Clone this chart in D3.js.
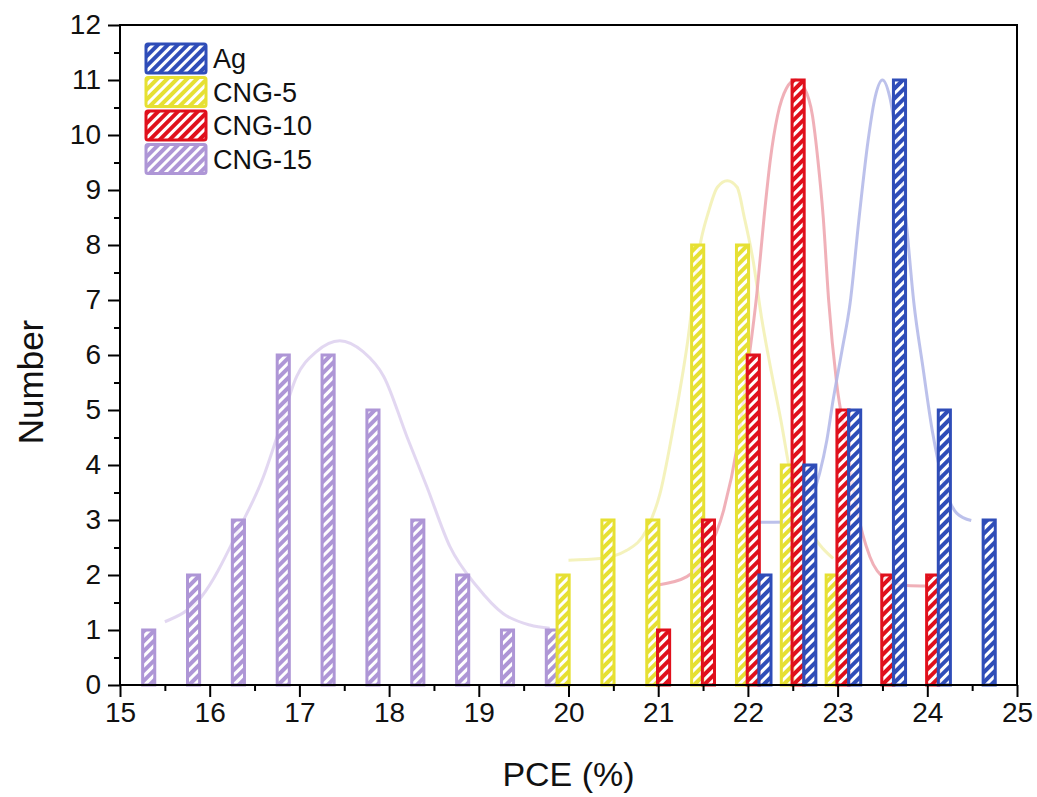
<!DOCTYPE html>
<html>
<head>
<meta charset="utf-8">
<script src="https://cdn.jsdelivr.net/npm/d3@7"></script>
<style>
  body { margin:0; background:#fff; }
  text { font-family: Arial, "Liberation Sans", sans-serif; fill:#111; }
</style>
</head>
<body>
<div id="chart"></div>
<script>
// histogram bins (bar centres, PCE %) and counts
const seriesNames = ["Ag", "CNG-5", "CNG-10", "CNG-15"];

const agPCE    = [22.19, 22.69, 23.19, 23.69, 24.19, 24.69];
const agCount  = [2, 4, 5, 11, 5, 3];
const cng5PCE   = [19.94, 20.44, 20.94, 21.44, 21.94, 22.44, 22.94];
const cng5Count = [2, 3, 3, 8, 8, 4, 2];
const cng10PCE   = [21.06, 21.56, 22.06, 22.56, 23.06, 23.56, 24.06];
const cng10Count = [1, 3, 6, 11, 5, 2, 2];
const cng15PCE   = [15.32, 15.82, 16.32, 16.82, 17.32, 17.82, 18.32, 18.82, 19.32, 19.82];
const cng15Count = [1, 2, 3, 6, 6, 5, 3, 2, 1, 1];

// fitted distribution curves
const agFit = [[22.06,2.96],[22.58,2.97],[22.69,3.3],[22.8,3.85],[22.88,4.45],[22.95,5.18],
  [23.05,6.09],[23.14,6.95],[23.24,8.5],[23.34,9.9],[23.42,10.7],[23.5,11.0],[23.58,10.7],
  [23.66,9.9],[23.76,8.5],[23.85,6.95],[23.95,5.79],[24.06,4.58],[24.18,3.67],[24.33,3.12],[24.49,2.99]];
const cng5Fit = [[20.0,2.27],[20.35,2.3],[20.65,2.45],[20.87,2.82],[21.02,3.48],[21.17,4.7],
  [21.32,6.15],[21.47,8.03],[21.56,8.6],[21.66,9.05],[21.77,9.17],[21.88,9.05],[21.96,8.5],
  [22.06,7.7],[22.15,6.7],[22.25,5.79],[22.36,4.88],[22.52,3.48],[22.66,2.9],[22.8,2.55],[22.95,2.3]];
const cng10Fit = [[21.0,1.82],[21.32,1.97],[21.54,2.39],[21.73,3.18],[21.88,4.33],[21.99,5.67],
  [22.1,7.12],[22.18,8.5],[22.25,9.55],[22.33,10.35],[22.43,10.85],[22.53,11.0],[22.63,10.85],
  [22.72,10.35],[22.78,9.55],[22.84,8.5],[22.9,7.0],[22.99,5.48],[23.1,4.4],[23.21,3.24],
  [23.36,2.33],[23.55,1.91],[23.77,1.81],[24.0,1.8]];
const cng15Fit = [[15.5,1.15],[15.91,1.61],[16.34,2.88],[16.6,3.79],[16.75,4.51],[16.97,5.61],
  [17.19,6.06],[17.45,6.26],[17.71,6.06],[17.94,5.61],[18.2,4.51],[18.42,3.61],[18.68,2.51],
  [18.98,1.79],[19.27,1.3],[19.57,1.09],[19.79,1.03]];

const xTicks = [15, 16, 17, 18, 19, 20, 21, 22, 23, 24, 25];
const yTicks = [0, 1, 2, 3, 4, 5, 6, 7, 8, 9, 10, 11, 12];

const colors    = { "Ag":"#2f4db8", "CNG-5":"#e6e033", "CNG-10":"#e0101c", "CNG-15":"#ae96d6" };
const fitColors = { "Ag":"#b0b6e8", "CNG-5":"#f2f0b0", "CNG-10":"#eda2ab", "CNG-15":"#ddd0ee" };

const W = 1037, H = 797;
const svg = d3.select("#chart").append("svg").attr("width", W).attr("height", H);

const x = d3.scaleLinear().domain([15, 25]).range([120, 1017]);
const y = d3.scaleLinear().domain([0, 12]).range([685, 25]);

// hatch patterns
const defs = svg.append("defs");
seriesNames.forEach((n, i) => {
  let p = defs.append("pattern").attr("id", "hatch" + i)
    .attr("patternUnits", "userSpaceOnUse")
    .attr("width", 7).attr("height", 7)
    .attr("patternTransform", "rotate(45)");
  p.append("rect").attr("width", 7).attr("height", 7).attr("fill", "#fff").attr("fill-opacity", 0.7);
  p.append("rect").attr("x", 0).attr("width", 4).attr("height", 7).attr("fill", colors[n]);
});

// fit curves (behind bars)
const line = d3.line().x(d => x(d[0])).y(d => y(d[1])).curve(d3.curveMonotoneX);
[["CNG-15", cng15Fit], ["CNG-5", cng5Fit], ["CNG-10", cng10Fit], ["Ag", agFit]].forEach(f => {
  svg.append("path").attr("d", line(f[1]))
    .attr("fill", "none").attr("stroke", fitColors[f[0]])
    .attr("stroke-width", 3).attr("stroke-opacity", 0.85);
});

// bars
const barW = 0.135;
const groups = [
  ["CNG-15", cng15PCE, cng15Count],
  ["CNG-5", cng5PCE, cng5Count],
  ["CNG-10", cng10PCE, cng10Count],
  ["Ag", agPCE, agCount]
];
groups.forEach(g => {
  let idx = seriesNames.indexOf(g[0]);
  svg.append("g").attr("class", "bars")
    .selectAll("rect").data(d3.range(g[1].length)).enter()
    .append("rect")
    .attr("x", i => x(g[1][i] - barW / 2))
    .attr("width", i => x(g[1][i] + barW / 2) - x(g[1][i] - barW / 2))
    .attr("y", i => y(g[2][i]))
    .attr("height", i => y(0) - y(g[2][i]))
    .attr("fill", "url(#hatch" + idx + ")")
    .attr("stroke", colors[g[0]])
    .attr("stroke-width", 3);
});

// axes
const xAxis = svg.append("g").attr("transform", "translate(0," + y(0) + ")")
  .call(d3.axisBottom(x).tickValues(xTicks).tickSize(12).tickPadding(5).tickFormat(d3.format("d")));
const xMinor = svg.append("g").attr("transform", "translate(0," + y(0) + ")")
  .call(d3.axisBottom(x).tickValues(xTicks.slice(0, -1).map(v => v + 0.5)).tickSize(6).tickFormat(""));
const yAxis = svg.append("g").attr("transform", "translate(" + x(15) + ",0)")
  .call(d3.axisLeft(y).tickValues(yTicks).tickSize(12).tickPadding(7).tickFormat(d3.format("d")));
const yMinor = svg.append("g").attr("transform", "translate(" + x(15) + ",0)")
  .call(d3.axisLeft(y).tickValues(yTicks.slice(0, -1).map(v => v + 0.5)).tickSize(6).tickFormat(""));

[xAxis, xMinor, yAxis, yMinor].forEach(a => {
  a.select(".domain").remove();
  a.selectAll("line").attr("stroke", "#000").attr("stroke-width", 2);
  a.selectAll("text").style("font-size", "28px").attr("fill", "#111");
});

// frame
svg.append("rect")
  .attr("x", x(15)).attr("y", y(12))
  .attr("width", x(25) - x(15)).attr("height", y(0) - y(12))
  .attr("fill", "none").attr("stroke", "#000").attr("stroke-width", 2);

// axis titles
svg.append("text").attr("x", (x(15) + x(25)) / 2).attr("y", 786)
  .attr("text-anchor", "middle").style("font-size", "34px").text("PCE (%)");
svg.append("text").attr("transform", "translate(43,382) rotate(-90)")
  .attr("text-anchor", "middle").style("font-size", "35px").text("Number");

// legend
const legend = svg.append("g").attr("transform", "translate(146,44)");
seriesNames.forEach((n, i) => {
  let row = legend.append("g").attr("transform", "translate(0," + i * 33.5 + ")");
  row.append("rect").attr("width", 60).attr("height", 29).attr("rx", 2)
    .attr("fill", "url(#hatch" + i + ")")
    .attr("stroke", colors[n]).attr("stroke-width", 3);
  row.append("text").attr("x", 67).attr("y", 24).style("font-size", "27px").text(n);
});
</script>
</body>
</html>
